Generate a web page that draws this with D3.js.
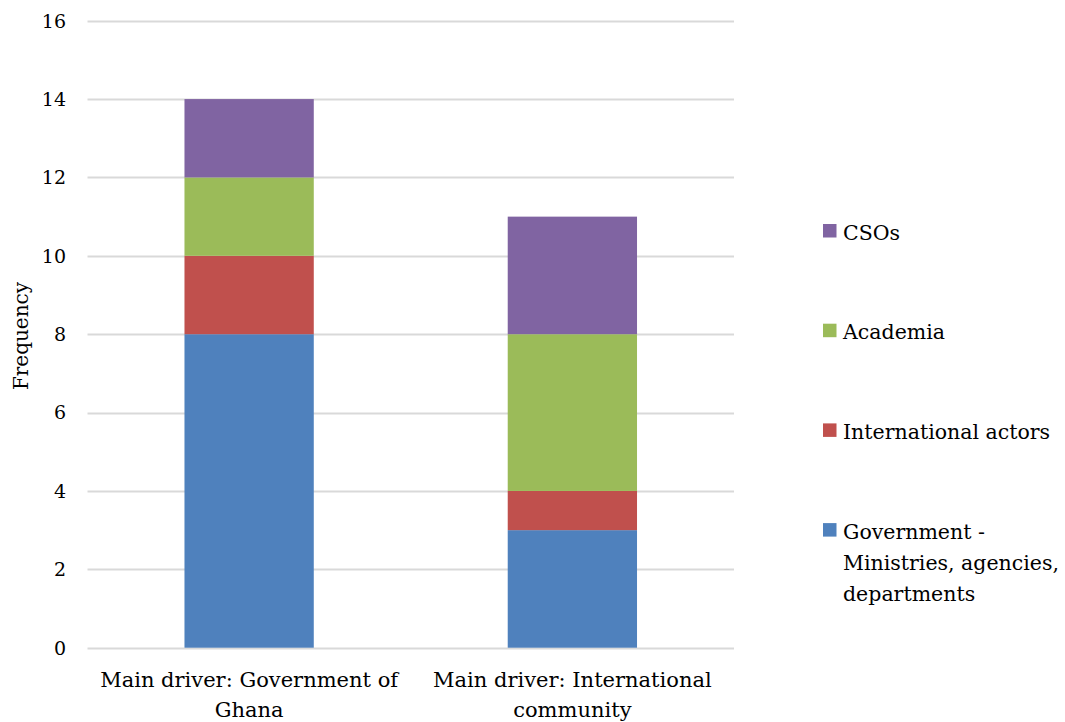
<!DOCTYPE html>
<html>
<head>
<meta charset="utf-8">
<script src="https://cdn.jsdelivr.net/npm/d3@7"></script>
<style>
  body { margin: 0; background: #fff; }
</style>
</head>
<body>
<div id="chart"></div>
<script>
// data
var categories = ["Main driver: Government of Ghana", "Main driver: International community"]
var catLines = [["Main driver: Government of", "Ghana"], ["Main driver: International", "community"]]
var seriesNames = ["Government - Ministries, agencies, departments", "International actors", "Academia", "CSOs"]
var government = [8, 3]
var international = [2, 1]
var academia = [2, 4]
var csos = [2, 3]
var yTicks = [0, 2, 4, 6, 8, 10, 12, 14, 16]

var colors = ["#4F81BD", "#C0504D", "#9BBB59", "#8064A2"]
// no Times here, DejaVu Serif is the closest serif
var fontFam = "DejaVu Serif"

var width = 1065
var height = 722

var svg = d3.select("#chart")
    .append("svg")
    .attr("width", width)
    .attr("height", height)
    .style("font-family", fontFam)

var x = d3.scaleBand()
    .domain(categories)
    .range([87.5, 734])
    .paddingInner(0.6)
    .paddingOuter(0.3)

var y = d3.scaleLinear()
    .domain([0, 16])
    .range([647.7, 20.7])

// build rows for the stack
var rows = categories.map(function(c, i) {
    return { cat: c, s0: government[i], s1: international[i], s2: academia[i], s3: csos[i] }
})
var stack = d3.stack().keys(["s0", "s1", "s2", "s3"])
var layers = stack(rows)

// gridlines
svg.append("g")
    .selectAll("line")
    .data(yTicks)
    .enter()
    .append("line")
    .attr("x1", 87.5)
    .attr("x2", 734)
    .attr("y1", function(d) { return Math.round(y(d)) + 0.5 })
    .attr("y2", function(d) { return Math.round(y(d)) + 0.5 })
    .style("stroke", "#D9D9D9")
    .style("stroke-width", 2)

// y tick labels
svg.append("g")
    .selectAll("text")
    .data(yTicks)
    .enter()
    .append("text")
    .attr("x", 66)
    .attr("y", function(d) { return y(d) })
    .attr("dy", "0.36em")
    .attr("text-anchor", "end")
    .style("font-size", "19px")
    .text(function(d) { return d })

// bars
svg.append("g")
    .selectAll("g")
    .data(layers)
    .enter()
    .append("g")
    .style("fill", function(d, i) { return colors[i] })
    .selectAll("rect")
    .data(function(d) { return d })
    .enter()
    .append("rect")
    .attr("x", function(d) { return x(d.data.cat) })
    .attr("width", x.bandwidth())
    .attr("y", function(d) { return y(d[1]) })
    .attr("height", function(d) { return y(d[0]) - y(d[1]) })

// x labels
categories.forEach(function(c, i) {
    var t = svg.append("text")
        .attr("text-anchor", "middle")
        .style("font-size", "21px")
    catLines[i].forEach(function(line, j) {
        t.append("tspan")
            .attr("x", x(c) + x.bandwidth() / 2)
            .attr("y", 687 + j * 30)
            .text(line)
    })
})

// y axis title
svg.append("text")
    .attr("transform", "translate(28," + 336 + ") rotate(-90)")
    .attr("text-anchor", "middle")
    .style("font-size", "20px")
    .text("Frequency")

// legend (reversed order, top = CSOs)
var legendLines = [["CSOs"], ["Academia"], ["International actors"], ["Government -", "Ministries, agencies,", "departments"]]
var legendColors = [colors[3], colors[2], colors[1], colors[0]]
legendLines.forEach(function(lines, i) {
    var top = 224 + i * 99.7
    svg.append("rect")
        .attr("x", 823)
        .attr("y", top)
        .attr("width", 13.5)
        .attr("height", 13.5)
        .style("fill", legendColors[i])
    var t = svg.append("text")
        .style("font-size", "20.5px")
    lines.forEach(function(line, j) {
        t.append("tspan")
            .attr("x", 843)
            .attr("y", top + 15.5 + j * 31)
            .text(line)
    })
})
</script>
</body>
</html>
